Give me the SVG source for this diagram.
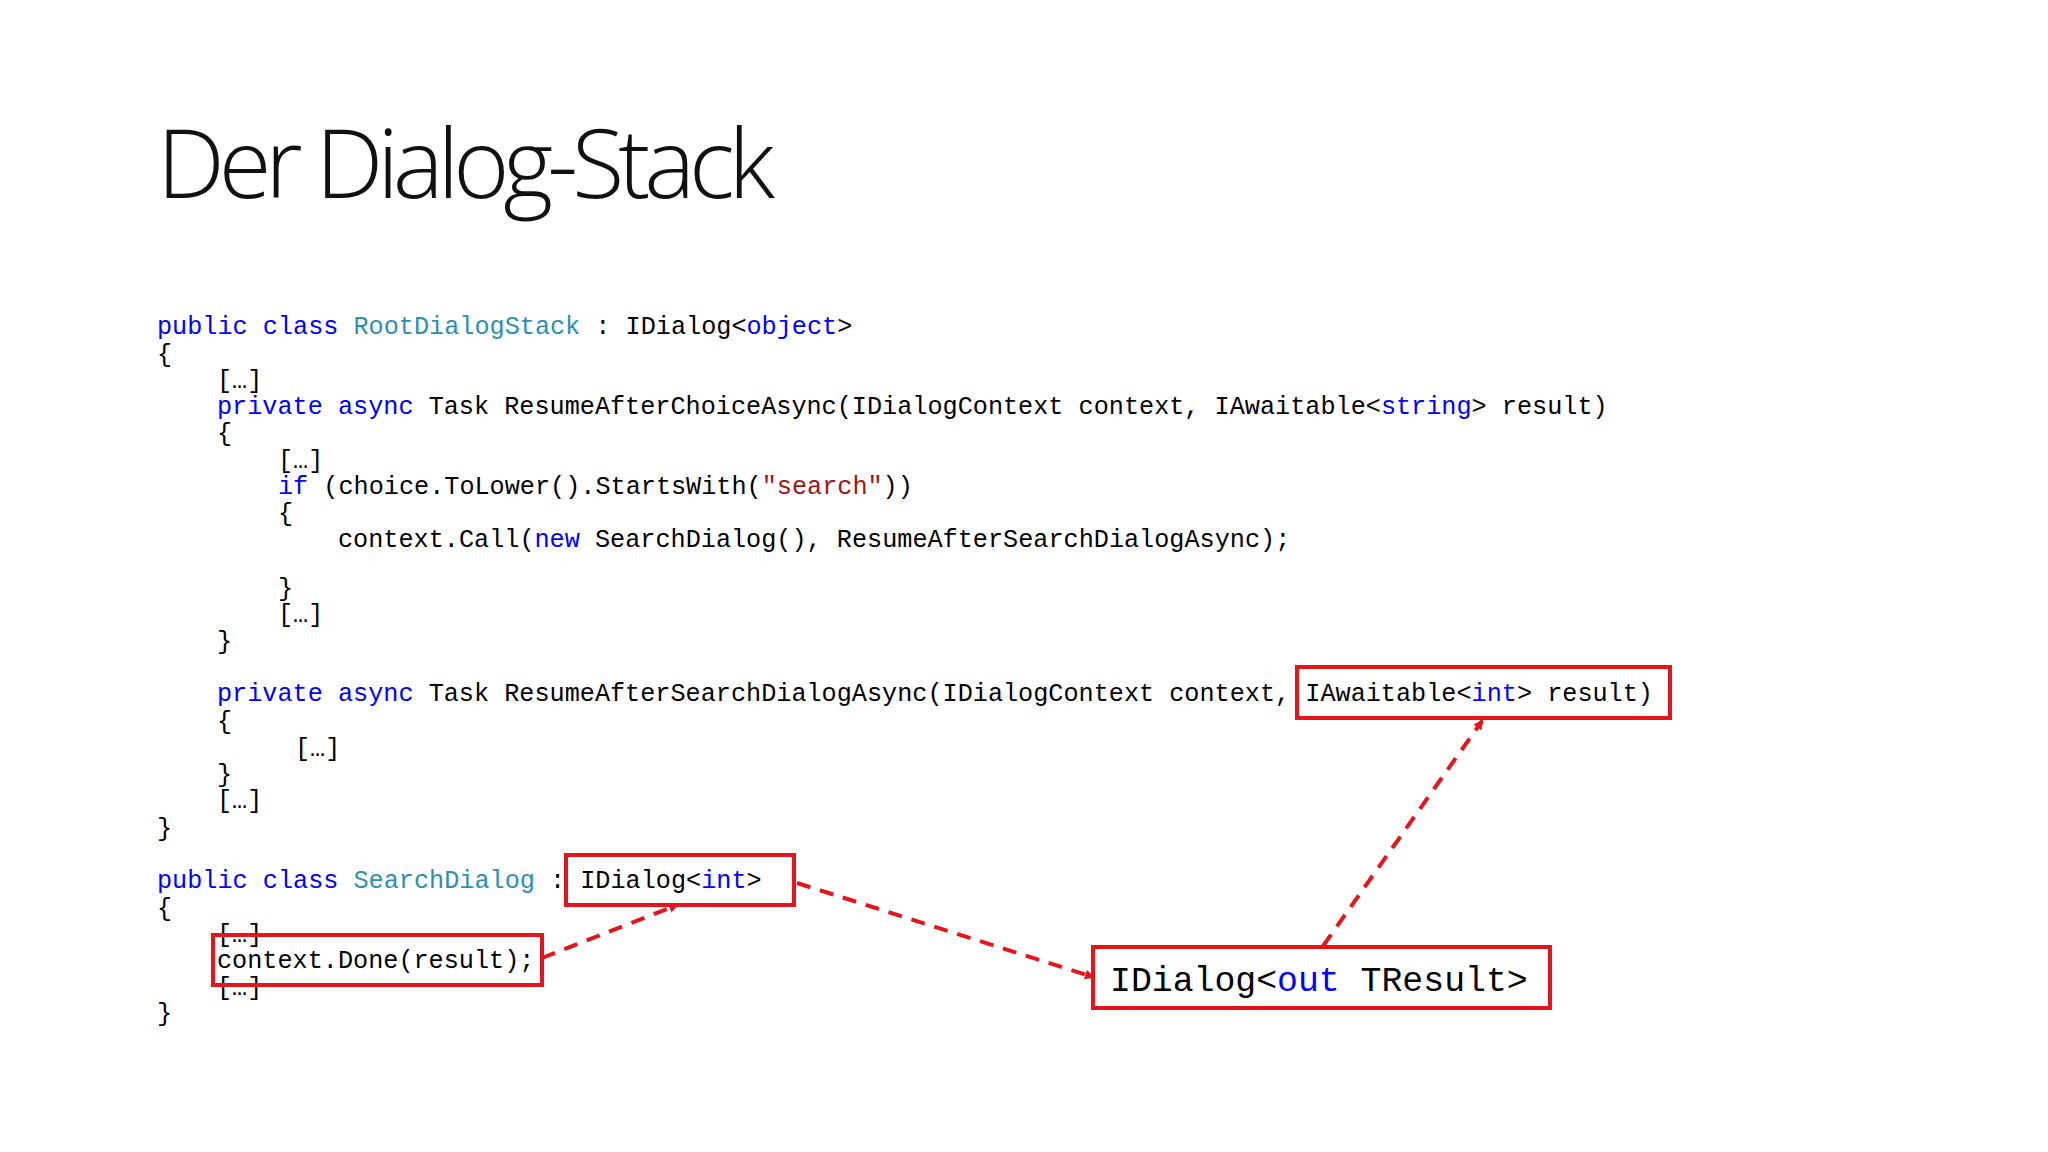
<svg xmlns="http://www.w3.org/2000/svg" width="2048" height="1152" viewBox="0 0 2048 1152">
<style>
.c{font-family:"Liberation Mono","DejaVu Sans Mono",monospace;font-size:25.2px;fill:#000;white-space:pre}
.k{fill:#0000FF}.t{fill:#2B91AF}.s{fill:#A31515}
.box{fill:none;stroke:#E8141B;stroke-width:4}
.ar{fill:none;stroke:#E8141B;stroke-width:4;stroke-dasharray:14 10;marker-end:url(#ah)}
</style>
<defs><marker id="ah" markerWidth="10" markerHeight="10" refX="8" refY="5" orient="auto" markerUnits="userSpaceOnUse"><path d="M0,0 L10,5 L0,10 z" fill="#E8141B"/></marker></defs>
<rect width="2048" height="1152" fill="#fff"/>
<g id="title"><text x="157" y="198" font-family="'Open Sans','Noto Sans',sans-serif" font-weight="300" font-size="96" textLength="618" fill="#111">Der Dialog-Stack</text></g>
<g id="code">
<text class="c" x="157" y="334"><tspan class="k">public class </tspan><tspan class="t">RootDialogStack</tspan> : IDialog&lt;<tspan class="k">object</tspan>&gt;</text>
<text class="c" x="157" y="362">{</text>
<text class="c" x="217" y="388">[…]</text>
<text class="c" x="217" y="414"><tspan class="k">private async </tspan>Task ResumeAfterChoiceAsync(IDialogContext context, IAwaitable&lt;<tspan class="k">string</tspan>&gt; result)</text>
<text class="c" x="217" y="441">{</text>
<text class="c" x="278" y="468">[…]</text>
<text class="c" x="278" y="494"><tspan class="k">if</tspan> (choice.ToLower().StartsWith(<tspan class="s">"search"</tspan>))</text>
<text class="c" x="278" y="521">{</text>
<text class="c" x="338" y="547">context.Call(<tspan class="k">new</tspan> SearchDialog(), ResumeAfterSearchDialogAsync);</text>
<text class="c" x="278" y="596">}</text>
<text class="c" x="278" y="622">[…]</text>
<text class="c" x="217" y="649">}</text>
<text class="c" x="217" y="701"><tspan class="k">private async </tspan>Task ResumeAfterSearchDialogAsync(IDialogContext context, IAwaitable&lt;<tspan class="k">int</tspan>&gt; result)</text>
<text class="c" x="217" y="729">{</text>
<text class="c" x="295" y="756">[…]</text>
<text class="c" x="217" y="782">}</text>
<text class="c" x="217" y="808">[…]</text>
<text class="c" x="157" y="836">}</text>
<text class="c" x="157" y="888"><tspan class="k">public class </tspan><tspan class="t">SearchDialog</tspan> : IDialog&lt;<tspan class="k">int</tspan>&gt;</text>
<text class="c" x="157" y="916">{</text>
<text class="c" x="217" y="942">[…]</text>
<text class="c" x="217" y="968">context.Done(result);</text>
<text class="c" x="217" y="995">[…]</text>
<text class="c" x="157" y="1021">}</text>
</g>
<g id="box-iawaitable"><rect class="box" x="1297" y="667" width="373" height="51"/></g>
<g id="box-idialog-int"><rect class="box" x="566" y="855" width="228" height="50"/></g>
<g id="box-done"><rect class="box" x="213" y="935" width="329" height="50"/></g>
<g id="box-tresult"><rect class="box" x="1093" y="947" width="457" height="61"/>
<text x="1110" y="991" font-family="'Liberation Mono','DejaVu Sans Mono',monospace" font-size="34.8" fill="#000">IDialog&lt;<tspan fill="#0000FF">out</tspan> TResult&gt;</text></g>
<g id="connectors">
<path class="ar" d="M542,958 L677,905"/>
<path class="ar" d="M797,883 L1093,977"/>
<path class="ar" d="M1323,946 L1482,721"/>
</g>
</svg>
